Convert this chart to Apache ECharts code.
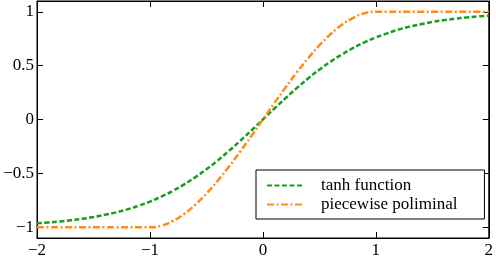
<!DOCTYPE html>
<html><head><meta charset="utf-8">
<script src="https://cdn.jsdelivr.net/npm/echarts@6/dist/echarts.min.js"></script>
<style>html,body{margin:0;padding:0;background:#fff;overflow:hidden}#c{width:496px;height:262px}</style>
</head><body><div id="c"></div>
<script>
const xs = [-2.0,-1.9,-1.8,-1.7,-1.6,-1.5,-1.4,-1.3,-1.2,-1.1,-1.0,-0.9,-0.8,-0.7,-0.6,-0.5,-0.4,-0.3,-0.2,-0.1,0.0,0.1,0.2,0.3,0.4,0.5,0.6,0.7,0.8,0.9,1.0,1.1,1.2,1.3,1.4,1.5,1.6,1.7,1.8,1.9,2.0];
const tanhVals = [-0.964,-0.956,-0.947,-0.935,-0.922,-0.905,-0.885,-0.862,-0.834,-0.800,-0.762,-0.716,-0.664,-0.604,-0.537,-0.462,-0.380,-0.291,-0.197,-0.100,0.000,0.100,0.197,0.291,0.380,0.462,0.537,0.604,0.664,0.716,0.762,0.800,0.834,0.862,0.885,0.905,0.922,0.935,0.947,0.956,0.964];
const pieceVals = [-1,-1,-1,-1,-1,-1,-1,-1,-1,-1,-1,-0.986,-0.944,-0.879,-0.792,-0.688,-0.568,-0.437,-0.296,-0.150,0.000,0.150,0.296,0.437,0.568,0.688,0.792,0.879,0.944,0.986,1,1,1,1,1,1,1,1,1,1,1];
const seriesNames = ['tanh function','piecewise poliminal'];
const xTicks = [-2,-1,0,1,2];
const yTicks = [-1,-0.5,0,0.5,1];

const FF = "'Liberation Serif', 'DejaVu Serif', serif";
const fmt = v => (v < 0 ? '\u2212' + String(-v) : String(v));
const font = () => ({fontFamily:FF, fontSize:17, color:'#000'});
const line = () => ({show:true,onZero:false,lineStyle:{color:'#000',width:1}});
const tick = (cv) => {
  const t = {show:true,inside:true,length:6,lineStyle:{color:'#000',width:1}};
  if (cv) t.customValues = cv;
  return t;
};
const chart = echarts.init(document.getElementById('c'), null, {renderer:'canvas'});
chart.setOption({
  animation:false,
  grid:{left:37,right:4,top:1,bottom:24,show:true,borderColor:'#000',borderWidth:1},
  xAxis:[
    {type:'value',min:-2,max:2,interval:1,position:'bottom',
     axisLine:line(),splitLine:{show:false},
     axisTick:tick(xTicks),
     axisLabel:Object.assign({formatter:fmt,margin:4,customValues:xTicks},font())},
    {type:'value',min:-2,max:2,interval:1,position:'top',
     axisLine:line(),splitLine:{show:false},
     axisTick:tick(xTicks),
     axisLabel:{show:false}}
  ],
  yAxis:[
    {type:'value',min:-1.1,max:1.1,position:'left',
     axisLine:line(),splitLine:{show:false},
     axisTick:tick(yTicks),
     axisLabel:Object.assign({formatter:fmt,margin:3,customValues:yTicks},font())},
    {type:'value',min:-1.1,max:1.1,position:'right',
     axisLine:line(),splitLine:{show:false},
     axisTick:tick(yTicks),
     axisLabel:{show:false}}
  ],
  legend:{
    orient:'vertical',left:256,top:170,
    padding:[7,27,6,10],itemGap:2,itemWidth:37,itemHeight:16,
    borderColor:'#000',borderWidth:1,backgroundColor:'#fff',
    itemStyle:{opacity:0},
    textStyle:{fontFamily:FF,fontSize:17,color:'#000',padding:[0,0,0,12]},
    data:seriesNames
  },
  series:[
    {name:seriesNames[0],type:'line',symbol:'none',smooth:true,
     data:xs.map((x,i)=>[x,tanhVals[i]]),
     lineStyle:{color:'#14a01e',width:2.5,type:[5,2.5]},itemStyle:{color:'#14a01e'}},
    {name:seriesNames[1],type:'line',symbol:'none',smooth:true,
     data:xs.map((x,i)=>[x,pieceVals[i]]),
     lineStyle:{color:'#ff8c1a',width:2.5,type:[7,2.5,2,2.5]},itemStyle:{color:'#ff8c1a'}}
  ]
});
</script></body></html>
